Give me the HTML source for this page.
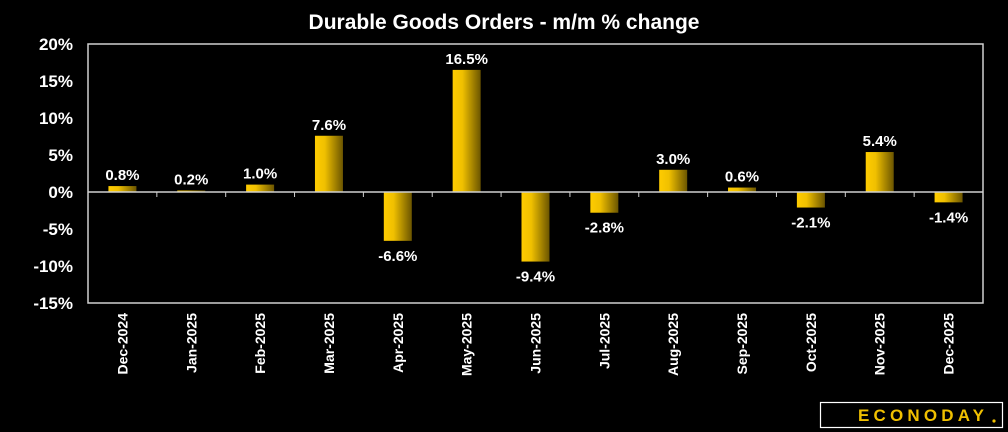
<!DOCTYPE html>
<html><head><meta charset="utf-8">
<style>
html,body{margin:0;padding:0;background:#000;}
svg{display:block;font-family:"Liberation Sans","DejaVu Sans",sans-serif;}
</style></head>
<body>
<svg id="chart" width="1008" height="432" viewBox="0 0 1008 432">
<defs>
<linearGradient id="bg" x1="0" x2="1" y1="0" y2="0">
<stop offset="0" stop-color="#ffcc00"/><stop offset="0.35" stop-color="#f0c000"/><stop offset="1" stop-color="#6b5500"/>
</linearGradient>
</defs>
<text x="504" y="29" text-anchor="middle" fill="#fff" font-size="21" font-weight="bold">Durable Goods Orders - m/m % change</text>
<rect x="88" y="44" width="895" height="259" fill="none" stroke="#d0d0d0" stroke-width="1.5"/>
<g id="yaxis"></g>
<g id="bars"></g>
<g id="xaxis"></g>
<g>
<rect x="820.5" y="402.5" width="182" height="25" fill="#000" stroke="#fff" stroke-width="1.2"/>
<text x="858" y="421" fill="#f0c000" font-size="17" font-weight="bold" textLength="126" lengthAdjust="spacing">ECONODAY</text>
<circle cx="994" cy="421" r="1.6" fill="#f0c000"/>
</g>
</svg>
<script>
const categories = ["Dec-2024","Jan-2025","Feb-2025","Mar-2025","Apr-2025","May-2025","Jun-2025","Jul-2025","Aug-2025","Sep-2025","Oct-2025","Nov-2025","Dec-2025"];
const values = [0.8,0.2,1.0,7.6,-6.6,16.5,-9.4,-2.8,3.0,0.6,-2.1,5.4,-1.4];
const yTicks = [20,15,10,5,0,-5,-10,-15];
const yTickLabels = ["20%","15%","10%","5%","0%","-5%","-10%","-15%"];

const NS="http://www.w3.org/2000/svg";
const L=88,R=983,T=44,B=303,yMax=20,yMin=-15;
const y=v=>T+(yMax-v)/(yMax-yMin)*(B-T);
const cw=(R-L)/categories.length;
const xc=i=>L+(i+0.5)*cw;
function mk(tag,attrs,parent){const e=document.createElementNS(NS,tag);for(const k in attrs)e.setAttribute(k,attrs[k]);parent.appendChild(e);return e;}
const ya=document.getElementById('yaxis'),bg=document.getElementById('bars'),xa=document.getElementById('xaxis');
yTicks.forEach((t,i)=>{
  const tx=mk('text',{x:73,y:y(t)+6,'text-anchor':'end',fill:'#fff','font-size':17,'font-weight':'bold'},ya);
  tx.textContent=yTickLabels[i];
  
  
});
const z=mk('line',{x1:L,x2:R,y1:y(0),y2:y(0),stroke:'#d0d0d0','stroke-width':1.5},xa);


for(let i=1;i<categories.length;i++){
  const tk=mk('line',{x1:L+i*cw,x2:L+i*cw,y1:y(0),y2:y(0)+5,stroke:'#d0d0d0','stroke-width':1},xa);
  
  
}
const bw=28;
values.forEach((v,i)=>{
  const y0=y(0),y1=y(v);
  const r=mk('rect',{x:xc(i)-bw/2,y:Math.min(y0,y1),width:bw,height:Math.abs(y1-y0),fill:'url(#bg)'},bg);
  
  
  const ly=v>=0?y1-6:y1+20;
  const lt=mk('text',{x:xc(i),y:ly,'text-anchor':'middle',fill:'#fff','font-size':15,'font-weight':'bold'},bg);
  lt.textContent=v.toFixed(1)+'%';
  
  
  const cl=mk('text',{x:0,y:0,'text-anchor':'end',fill:'#fff','font-size':14,'font-weight':'bold',transform:`translate(${xc(i)+5},${B+10}) rotate(-90)`},xa);
  cl.textContent=categories[i];
  
  
});
</script>
</body></html>
